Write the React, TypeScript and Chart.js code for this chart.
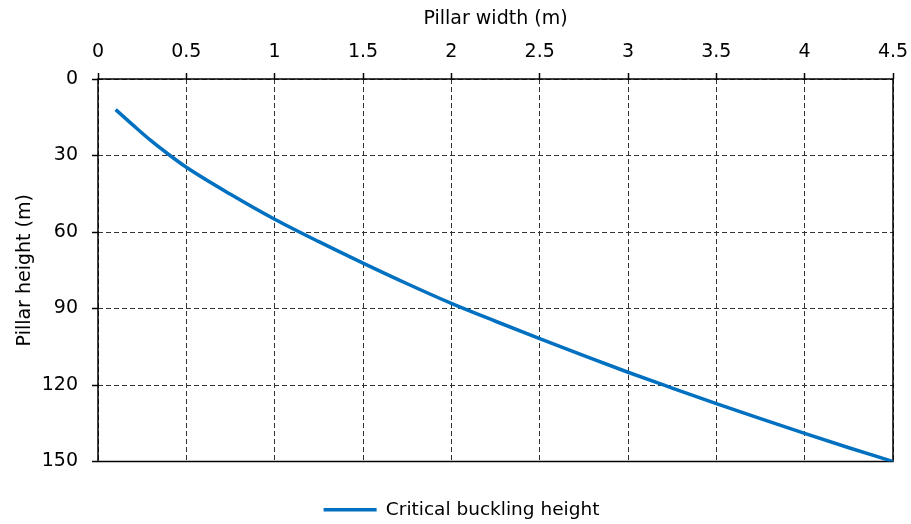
import React, { useEffect, useRef } from "react";
import { Chart, registerables } from "chart.js";

Chart.register(...registerables);

const pillarWidths = [0.1, 0.2, 0.3, 0.4, 0.5, 0.75, 1, 1.25, 1.5, 1.75, 2, 2.25, 2.5, 2.75, 3, 3.25, 3.5, 3.75, 4, 4.25, 4.5];
const criticalHeights = [12, 18.2, 24.2, 29.6, 34.6, 45.2, 55, 63.8, 72.2, 80.3, 88, 95, 101.8, 108.5, 115, 121.2, 127.3, 133.2, 139, 144.6, 150];
const seriesLabel = "Critical buckling height";
const xTitle = "Pillar width (m)";
const yTitle = "Pillar height (m)";

const FONT = "'DejaVu Sans', Verdana, sans-serif";
const FS = 19;

export default function App() {
  const ref = useRef<HTMLCanvasElement>(null);

  useEffect(() => {
    if (!ref.current) return;
    const frame = {
      id: "frame",
      beforeDatasetsDraw(chart: any) {
        const { ctx, chartArea } = chart;
        const { left, top, right, bottom } = chartArea;
        ctx.save();
        ctx.setLineDash([]);
        ctx.strokeStyle = "#000";
        ctx.lineWidth = 1.5;
        ctx.strokeRect(left, top, right - left, bottom - top);
        ctx.restore();
      },
    };

    const gridCommon = {
      color: "#333",
      lineWidth: 1,
      tickLength: 6,
      tickColor: "#000",
      tickWidth: 1.5,
      tickBorderDash: [],
    };

    const chart = new Chart(ref.current, {
      type: "line",
      data: {
        datasets: [
          {
            label: seriesLabel,
            data: pillarWidths.map((w, i) => ({ x: w, y: criticalHeights[i] })),
            borderColor: "#0070C0",
            backgroundColor: "#0070C0",
            borderWidth: 3.5,
            pointRadius: 0,
            cubicInterpolationMode: "monotone",
            fill: false,
          },
        ],
      },
      options: {
        animation: false,
        responsive: false,
        layout: { padding: { top: 0, right: 0, bottom: -5, left: 12 } },
        font: { family: FONT, size: FS },
        color: "#000",
        scales: {
          x: {
            type: "linear",
            position: "top",
            min: 0,
            max: 4.5,
            ticks: {
              stepSize: 0.5,
              color: "#000",
              font: { family: FONT, size: FS },
              padding: 10,
              maxRotation: 0,
              callback: (v: any) => String(Number(v)),
            },
            grid: gridCommon,
            border: { display: false, dash: [5, 3] },
            title: { display: true, text: xTitle, color: "#000", font: { family: FONT, size: FS }, padding: { top: 8, bottom: 0 } },
            afterFit(s: any) {
              s.height = 79;
              s.paddingLeft = 0;
              s.paddingRight = 0;
            },
          },
          y: {
            type: "linear",
            position: "left",
            reverse: true,
            min: 0,
            max: 150,
            ticks: { stepSize: 30, color: "#000", font: { family: FONT, size: FS }, padding: 14 },
            grid: gridCommon,
            border: { display: false, dash: [5, 3] },
            title: { display: true, text: yTitle, color: "#000", font: { family: FONT, size: FS }, padding: { top: 1.5, bottom: 0 } },
            afterFit(s: any) {
              s.width = 86;
              s.paddingTop = 0;
              s.paddingBottom = 0;
            },
          },
          y2: {
            type: "linear",
            position: "right",
            display: true,
            grid: { display: false },
            border: { display: false },
            ticks: { display: false },
            afterFit(s: any) {
              s.width = 18;
            },
          },
        },
        plugins: {
          legend: {
            position: "bottom",
            title: { display: true, text: "", padding: { top: 19.6, bottom: 0 }, font: { size: 12 } },
            labels: {
              usePointStyle: true,
              pointStyle: "line",
              pointStyleWidth: 53,
              padding: 5,
              color: "#000",
              font: { family: FONT, size: 18.5 },
            },
          },
          tooltip: { enabled: false },
        },
      } as any,
      plugins: [frame],
    });
    return () => chart.destroy();
  }, []);

  return (
    <div style={{ position: "fixed", left: 0, top: 0, width: 911, height: 524 }}>
      <canvas ref={ref} width={911} height={524} style={{ display: "block" }} />
    </div>
  );
}
